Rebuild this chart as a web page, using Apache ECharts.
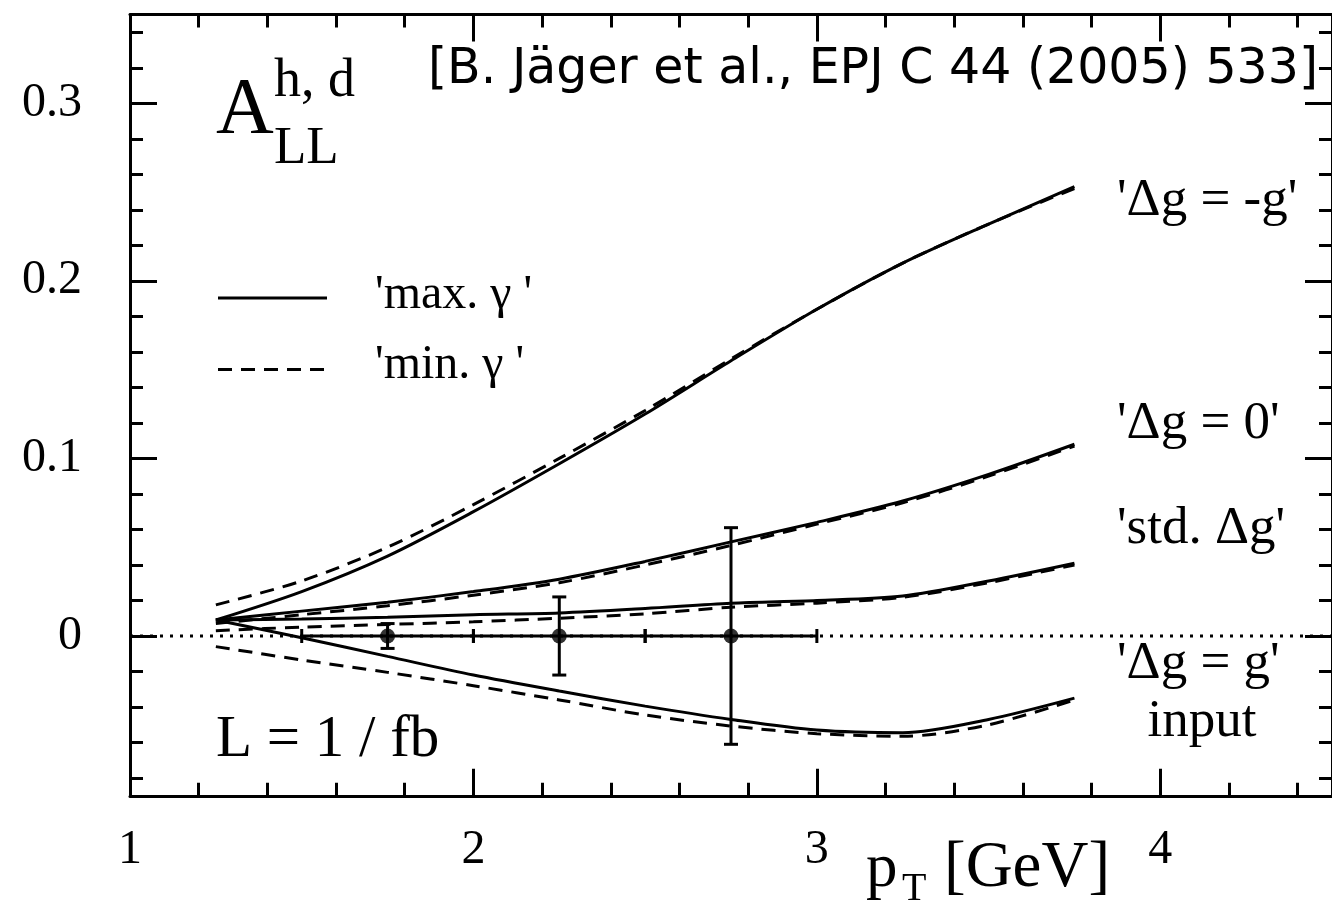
<!DOCTYPE html>
<html>
<head>
<meta charset="utf-8">
<script src="https://cdn.jsdelivr.net/npm/echarts@6/dist/echarts.min.js"></script>
<style>
  html, body { margin: 0; padding: 0; background: #fff; }
  #chart { width: 1332px; height: 901px; }
</style>
</head>
<body>
<div id="chart"></div>
<script>
// Transverse momentum grid of the theory curves [GeV]
const pT = [1.25, 1.5, 1.75, 2.0, 2.25, 2.5, 2.75, 3.0, 3.25, 3.5, 3.75];

// A_LL for each gluon scenario, 'max. gamma' (solid) and 'min. gamma' (dashed)
const negGMax  = [0.009, 0.025, 0.045, 0.070, 0.097, 0.125, 0.155, 0.184, 0.210, 0.232, 0.253];
const negGMin  = [0.0175, 0.031, 0.050, 0.074, 0.100, 0.127, 0.156, 0.184, 0.210, 0.232, 0.252];
const zeroGMax = [0.009, 0.014, 0.019, 0.025, 0.032, 0.042, 0.053, 0.064, 0.076, 0.091, 0.108];
const zeroGMin = [0.007, 0.012, 0.017, 0.023, 0.030, 0.040, 0.051, 0.063, 0.075, 0.090, 0.107];
const stdGMax  = [0.009, 0.0095, 0.0105, 0.012, 0.013, 0.0155, 0.0185, 0.020, 0.0225, 0.031, 0.041];
const stdGMin  = [0.003, 0.005, 0.0065, 0.008, 0.010, 0.0125, 0.0162, 0.0185, 0.0218, 0.030, 0.040];
const posGMax  = [0.009, -0.001, -0.0115, -0.022, -0.031, -0.0395, -0.047, -0.053, -0.0545, -0.047, -0.035];
const posGMin  = [-0.006, -0.0135, -0.0205, -0.028, -0.036, -0.0445, -0.0507, -0.055, -0.0565, -0.050, -0.036];

// Projected statistical uncertainties (L = 1/fb), bins in pT
const ptX   = [1.75, 2.25, 2.75];
const ptY   = [0, 0, 0];
const ptXLo = [1.5, 2.0, 2.5];
const ptXHi = [2.0, 2.5, 3.0];
const ptErr = [0.007, 0.022, 0.061];

// Axis ticks and labels
const xMajorTicks = [1, 2, 3, 4];
const xMinorTicks = [1.2, 1.4, 1.6, 1.8, 2.2, 2.4, 2.6, 2.8, 3.2, 3.4, 3.6, 3.8, 4.2, 4.4];
const yMajorTicks = [0, 0.1, 0.2, 0.3];
const yMinorTicks = [-0.08, -0.06, -0.04, -0.02, 0.02, 0.04, 0.06, 0.08, 0.12, 0.14, 0.16, 0.18,
                     0.22, 0.24, 0.26, 0.28, 0.32, 0.34];

// Legend entries
const legendNames = ["'max. γ '", "'min. γ '"];

const SERIF = 'Liberation Serif';
const SANS = 'DejaVu Sans';
const BLACK = '#000';
const DASH = [14, 9];
const LW = 3;

const pairs = ys => pT.map((x, i) => [x, ys[i]]);

function curve(name, ys, dashed) {
  return {
    type: 'line', name: name, data: pairs(ys),
    xAxisIndex: 0, yAxisIndex: 0,
    symbol: 'none', smooth: 0.3,
    lineStyle: { color: BLACK, width: LW, type: dashed ? DASH : 'solid', cap: 'butt' },
    itemStyle: { color: BLACK },
    z: 3, silent: true
  };
}

function xAxisDef(position, ticks, len, withLine, withLabels) {
  return {
    type: 'value', min: 1, max: 4.5, position: position,
    axisLine: { show: withLine, onZero: false, lineStyle: { color: BLACK, width: 3 } },
    axisTick: { show: true, inside: true, length: len, customValues: ticks,
                lineStyle: { color: BLACK, width: 3 } },
    axisLabel: { show: withLabels, customValues: ticks, margin: 31,
                 fontFamily: SERIF, fontSize: 48, color: BLACK },
    splitLine: { show: false }, minorTick: { show: false }
  };
}

function yAxisDef(position, ticks, len, withLine, withLabels) {
  return {
    type: 'value', min: -0.09, max: 0.35, position: position,
    axisLine: { show: withLine, onZero: false, lineStyle: { color: BLACK, width: 3 } },
    axisTick: { show: true, inside: true, length: len, customValues: ticks,
                lineStyle: { color: BLACK, width: 3 } },
    axisLabel: { show: withLabels, customValues: ticks, margin: 48,
                 fontFamily: SERIF, fontSize: 48, color: BLACK,
                 formatter: v => String(Math.round(v * 10) / 10) },
    splitLine: { show: false }, minorTick: { show: false }
  };
}

// Error bars: horizontal bin width with end marks, vertical statistical error with caps
function renderErrorBar(params, api) {
  const x = api.value(0), y = api.value(1), xl = api.value(2), xh = api.value(3), e = api.value(4);
  const l = api.coord([xl, y]), r = api.coord([xh, y]);
  const t = api.coord([x, y + e]), b = api.coord([x, y - e]);
  const st = { stroke: BLACK, lineWidth: 3 };
  const seg = (x1, y1, x2, y2) => ({ type: 'line', shape: { x1, y1, x2, y2 }, style: st });
  return {
    type: 'group',
    children: [
      seg(l[0], l[1], r[0], r[1]),
      seg(l[0], l[1] - 7, l[0], l[1] + 7),
      seg(r[0], r[1] - 7, r[0], r[1] + 7),
      seg(t[0], t[1], b[0], b[1]),
      seg(t[0] - 7, t[1], t[0] + 7, t[1]),
      seg(b[0] - 7, b[1], b[0] + 7, b[1])
    ]
  };
}

// Text placed by its alphabetic baseline (serif metrics)
function txt(str, x, baseline, size, family, align) {
  return {
    type: 'text', x: x, y: baseline - size * 0.3375, silent: true,
    style: {
      text: str, fill: BLACK, font: size + 'px "' + (family || SERIF) + '"',
      textAlign: align || 'left', align: align || 'left',
      textVerticalAlign: 'middle', verticalAlign: 'middle'
    }
  };
}

function legendLine(y, dashed) {
  return {
    type: 'line', silent: true,
    shape: { x1: 218, y1: y, x2: 327, y2: y },
    style: { stroke: BLACK, lineWidth: LW, lineDash: dashed ? DASH : null }
  };
}

const chart = echarts.init(document.getElementById('chart'), null, { renderer: 'canvas' });

chart.setOption({
  animation: false,
  backgroundColor: '#fff',
  grid: { left: 130, right: -15, top: 14.5, bottom: 105.2, containLabel: false },
  xAxis: [
    xAxisDef('bottom', xMajorTicks, 27, true, true),
    xAxisDef('bottom', xMinorTicks, 13, false, false),
    xAxisDef('top', xMajorTicks, 27, true, false),
    xAxisDef('top', xMinorTicks, 13, false, false)
  ],
  yAxis: [
    yAxisDef('left', yMajorTicks, 27, true, true),
    yAxisDef('left', yMinorTicks, 13, false, false),
    yAxisDef('right', yMajorTicks, 27, true, false),
    yAxisDef('right', yMinorTicks, 13, false, false)
  ],
  series: [
    {
      type: 'line', name: 'zero', data: [[1, 0], [4.5, 0]],
      symbol: 'none', silent: true, z: 1,
      lineStyle: { color: BLACK, width: 3, type: [3, 7], cap: 'butt' }
    },
    curve(legendNames[0], negGMax, false),
    curve(legendNames[0], zeroGMax, false),
    curve(legendNames[0], stdGMax, false),
    curve(legendNames[0], posGMax, false),
    curve(legendNames[1], negGMin, true),
    curve(legendNames[1], zeroGMin, true),
    curve(legendNames[1], stdGMin, true),
    curve(legendNames[1], posGMin, true),
    {
      type: 'custom', name: 'errors', renderItem: renderErrorBar,
      data: ptX.map((x, i) => [x, ptY[i], ptXLo[i], ptXHi[i], ptErr[i]]),
      encode: { x: 0, y: 1 }, z: 4, silent: true
    },
    {
      type: 'scatter', name: 'input', data: ptX.map((x, i) => [x, ptY[i]]),
      symbol: 'circle', symbolSize: 15, itemStyle: { color: BLACK }, z: 5, silent: true
    }
  ],
  graphic: [
    // legend
    legendLine(298, false),
    legendLine(369.5, true),
    txt(legendNames[0], 375, 312, 48),
    txt(legendNames[1], 375, 382, 48),
    // axis titles
    txt('A', 216, 139, 80),
    txt('h, d', 274, 100, 54),
    txt('LL', 274, 167, 53),
    txt('p', 866, 891, 63),
    txt('T', 902, 903, 40),
    txt('[GeV]', 944, 891, 65),
    // annotations
    txt('[B. Jäger et al., EPJ C 44 (2005) 533]', 428, 87, 49, SANS),
    txt("'Δg = -g'", 1117, 219, 53),
    txt("'Δg = 0'", 1117, 442, 53),
    txt("'std. Δg'", 1117, 547, 53),
    txt("'Δg = g'", 1117, 682, 53),
    txt('input', 1202, 740, 53, SERIF, 'center'),
    txt('L = 1 / fb', 216, 760, 59)
  ]
});
</script>
</body>
</html>
